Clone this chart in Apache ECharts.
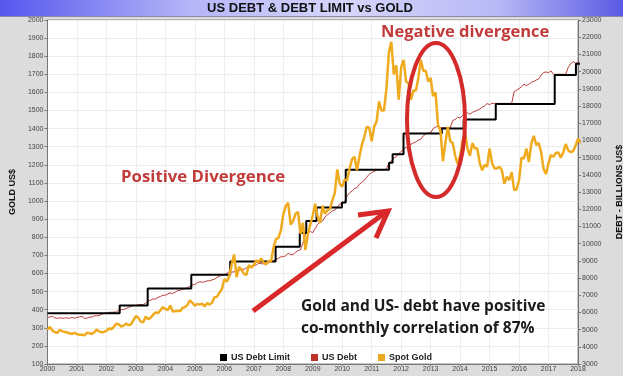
<!DOCTYPE html>
<html>
<head>
<meta charset="utf-8">
<script src="https://cdn.jsdelivr.net/npm/echarts@6/dist/echarts.min.js"></script>
<style>
html,body{margin:0;padding:0;background:#fff;}
#chart{width:639px;height:376px;background:linear-gradient(to right,#dcdcdc 0,#dcdcdc 623px,#ffffff 623px);}
</style>
</head>
<body>
<div id="chart"></div>
<script>
// ---- data ----
const startYear = 2000;
// Spot gold, US$ per ounce, monthly from Jan 2000 to Feb 2018
const goldMonthly = [
  289, 305, 285, 276, 272, 288, 282, 277, 274, 270, 266, 272,
  265, 262, 262, 258, 272, 270, 266, 274, 290, 280, 276, 277,
  283, 297, 292, 305, 322, 320, 306, 312, 323, 315, 319, 342,
  365, 355, 334, 330, 362, 348, 355, 372, 385, 381, 397, 414,
  404, 398, 423, 390, 392, 394, 392, 410, 414, 427, 452, 438,
  422, 432, 428, 433, 418, 437, 428, 439, 469, 471, 494, 513,
  568, 555, 584, 650, 705, 580, 636, 622, 598, 592, 646, 632,
  648, 672, 662, 683, 660, 650, 670, 665, 740, 790, 795, 836,
  925, 972, 990, 870, 890, 930, 940, 820, 880, 730, 815, 870,
  920, 985, 915, 880, 975, 930, 950, 955, 1005, 1045, 1175, 1095,
  1080, 1118, 1115, 1180, 1230, 1245, 1170, 1245, 1310, 1355, 1410, 1405,
  1330, 1410, 1440, 1550, 1500, 1500, 1620, 1820, 1880, 1700, 1750, 1560,
  1740, 1780, 1660, 1650, 1560, 1610, 1610, 1680, 1780, 1720, 1720, 1660,
  1680, 1580, 1600, 1420, 1390, 1220, 1320, 1410, 1330, 1320, 1250, 1205,
  1250, 1330, 1380, 1290, 1250, 1320, 1290, 1290, 1210, 1170, 1200, 1190,
  1290, 1210, 1180, 1180, 1190, 1170, 1095, 1135, 1115, 1160, 1060, 1065,
  1115, 1240, 1235, 1290, 1215, 1320, 1360, 1310, 1320, 1270, 1175, 1150,
  1210, 1255, 1245, 1265, 1268, 1240, 1268, 1315, 1280, 1270, 1275, 1305,
  1345, 1320
];
// US total public debt, billions US$, monthly from Jan 2000 to Feb 2018
const debtMonthly = [
  5712, 5735, 5773, 5685, 5648, 5686, 5657, 5678, 5674, 5658, 5709, 5662,
  5716, 5736, 5774, 5661, 5656, 5727, 5718, 5793, 5807, 5815, 5888, 5943,
  5937, 6003, 6006, 6015, 6019, 6126, 6160, 6162, 6228, 6283, 6343, 6405,
  6401, 6446, 6460, 6460, 6537, 6670, 6708, 6783, 6783, 6872, 6925, 6998,
  7002, 7080, 7131, 7098, 7180, 7274, 7293, 7345, 7379, 7429, 7525, 7596,
  7628, 7714, 7777, 7761, 7776, 7836, 7838, 7889, 7933, 8027, 8093, 8170,
  8196, 8269, 8371, 8343, 8359, 8420, 8438, 8500, 8507, 8592, 8630, 8680,
  8707, 8764, 8849, 8830, 8827, 8868, 8885, 8958, 9008, 9078, 9144, 9229,
  9238, 9299, 9437, 9358, 9367, 9492, 9585, 9645, 10025, 10525, 10661, 10700,
  10632, 10878, 11127, 11238, 11318, 11545, 11675, 11780, 11910, 11943, 12108, 12311,
  12278, 12439, 12773, 12948, 13050, 13203, 13239, 13452, 13562, 13668, 13860, 14025,
  14131, 14195, 14270, 14290, 14294, 14294, 14343, 14685, 14790, 14974, 15054, 15223,
  15356, 15487, 15582, 15692, 15771, 15856, 15914, 16016, 16066, 16261, 16370, 16433,
  16433, 16688, 16771, 16829, 16739, 16738, 16738, 16738, 16738, 17156, 17217, 17352,
  17293, 17463, 17601, 17602, 17517, 17632, 17688, 17750, 17824, 17938, 18005, 18141,
  18082, 18156, 18152, 18152, 18152, 18152, 18151, 18151, 18151, 18153, 18827, 18922,
  19012, 19125, 19264, 19187, 19265, 19381, 19427, 19510, 19573, 19805, 19948, 19977,
  19937, 20041, 19846, 19846, 19846, 19845, 19845, 19845, 20245, 20442, 20590, 20493,
  20494, 20855
];
// US debt limit changes (decimal year, billions US$)
const debtLimitDates  = [2000.0, 2002.45, 2003.4, 2004.88, 2006.2, 2007.74, 2008.56, 2008.78, 2009.13, 2009.99, 2010.12, 2011.59, 2011.71, 2012.08, 2013.38, 2014.12, 2015.21, 2017.21, 2017.93, 2018.1];
const debtLimitValues = [5950, 6400, 7384, 8184, 8965, 9815, 10615, 11315, 12104, 12394, 14294, 14694, 15194, 16394, 16699, 17212, 18113, 19809, 20456, 20456];

const seriesNames = ['US Debt Limit', 'US Debt', 'Spot Gold'];
const titleText = 'US DEBT & DEBT LIMIT vs GOLD';
const leftAxisName = 'GOLD US$';
const rightAxisName = 'DEBT - BILLIONS US$';
const noteNegative = 'Negative divergence';
const notePositive = 'Positive Divergence';
const noteCorrelation = ['Gold and US- debt have positive', 'co-monthly correlation of 87%'];

// ---- build ----
const goldData = goldMonthly.map((v, i) => [startYear + i / 12, v]);
const debtData = debtMonthly.map((v, i) => [startYear + i / 12, v]);
const limitData = debtLimitDates.map((d, i) => [d, debtLimitValues[i]]);

const chart = echarts.init(document.getElementById('chart'), null, {renderer: 'canvas'});
const axisLabelStyle = {fontSize: 7, color: '#444', fontFamily: 'Liberation Sans', formatter: v => String(v)};
const noteFont = '"Open Sans", "Noto Sans", sans-serif';

chart.setOption({
  animation: false,
  backgroundColor: 'transparent',
  grid: {left: 39, right: 61, top: 20, bottom: 12, show: true, backgroundColor: '#ffffff', borderColor: '#8a8a8a', borderWidth: 1},
  xAxis: {
    type: 'value', min: 2000, max: 2018, interval: 1,
    axisLine: {show: true, lineStyle: {color: '#777'}},
    axisTick: {show: true, length: 2, lineStyle: {color: '#777'}},
    axisLabel: Object.assign({margin: 2}, axisLabelStyle),
    splitLine: {show: true, lineStyle: {color: '#ededed', width: 1}}
  },
  yAxis: [
    {
      type: 'value', min: 100, max: 2000, interval: 100, position: 'left',
      name: leftAxisName, nameLocation: 'middle', nameRotate: 90, nameGap: 28,
      nameTextStyle: {fontSize: 9, fontWeight: 'bold', color: '#111', fontFamily: 'Liberation Sans'},
      axisLine: {show: true, lineStyle: {color: '#777'}},
      axisTick: {show: true, length: 3, lineStyle: {color: '#777'}},
      axisLabel: Object.assign({margin: 4}, axisLabelStyle),
      splitLine: {show: true, lineStyle: {color: '#ededed', width: 1}}
    },
    {
      type: 'value', min: 3000, max: 23000, interval: 1000, position: 'right',
      name: rightAxisName, nameLocation: 'middle', nameRotate: 90, nameGap: 37,
      nameTextStyle: {fontSize: 9, fontWeight: 'bold', color: '#111', fontFamily: 'Liberation Sans'},
      axisLine: {show: true, lineStyle: {color: '#777'}},
      axisTick: {show: true, length: 3, lineStyle: {color: '#777'}},
      axisLabel: Object.assign({margin: 4}, axisLabelStyle),
      splitLine: {show: false}
    }
  ],
  legend: {
    left: 215, top: 348, itemWidth: 7, itemHeight: 7, itemGap: 21, icon: 'rect',
    data: seriesNames,
    textStyle: {fontSize: 9, fontWeight: 'bold', color: '#222', fontFamily: 'Liberation Sans', padding: [0, 0, 0, -1]}
  },
  series: [
    {name: seriesNames[0], type: 'line', yAxisIndex: 1, step: 'end', data: limitData, showSymbol: false,
     lineStyle: {color: '#000', width: 2}, itemStyle: {color: '#000'}, z: 3},
    {name: seriesNames[1], type: 'line', yAxisIndex: 1, data: debtData, showSymbol: false,
     lineStyle: {color: '#b9403c', width: 1}, itemStyle: {color: '#c0302a'}, z: 2},
    {name: seriesNames[2], type: 'line', yAxisIndex: 0, data: goldData, showSymbol: false,
     lineStyle: {color: '#f0aa1e', width: 2.5}, itemStyle: {color: '#e8a820'}, z: 4}
  ],
  graphic: [
    {type: 'rect', z: 10, shape: {x: 0, y: 0, width: 623, height: 16},
     style: {fill: new echarts.graphic.LinearGradient(0, 0, 1, 0, [
       {offset: 0, color: '#5656ee'}, {offset: 0.3, color: '#b4b4f8'}, {offset: 0.55, color: '#d6d6fc'},
       {offset: 0.8, color: '#b8b8f6'}, {offset: 1, color: '#5a5ae4'}])}},
    {type: 'rect', z: 11, shape: {x: 0, y: 16, width: 623, height: 1}, style: {fill: '#8888aa'}},
    {type: 'text', z: 12, style: {text: titleText, x: 310, y: 8, textAlign: 'center', textVerticalAlign: 'middle',
      font: 'bold 13px "Liberation Sans", Arial, sans-serif', fill: '#111'}},
    {type: 'ellipse', z: 20, shape: {cx: 436, cy: 120, rx: 29, ry: 77},
     style: {fill: 'none', stroke: '#d42a2a', lineWidth: 4}},
    {type: 'polyline', z: 20, shape: {points: [[253, 311], [386, 212]]},
     style: {stroke: '#d8282a', lineWidth: 5, fill: 'none'}},
    {type: 'polyline', z: 20, shape: {points: [[358, 215], [388, 211], [376, 238]]},
     style: {stroke: '#d8282a', lineWidth: 5, fill: 'none', lineJoin: 'miter'}},
    {type: 'text', z: 21, style: {text: noteNegative, x: 381, y: 32, textVerticalAlign: 'middle',
      font: 'bold 16.5px ' + noteFont, fill: '#c23a3a'}},
    {type: 'text', z: 21, style: {text: notePositive, x: 121, y: 177, textVerticalAlign: 'middle',
      font: 'bold 16.8px ' + noteFont, fill: '#c23a3a'}},
    {type: 'text', z: 21, style: {text: noteCorrelation[0], x: 301, y: 307, textVerticalAlign: 'middle',
      font: 'bold 15.5px ' + noteFont, fill: '#1b1b1b'}},
    {type: 'text', z: 21, style: {text: noteCorrelation[1], x: 301, y: 329, textVerticalAlign: 'middle',
      font: 'bold 15.5px ' + noteFont, fill: '#1b1b1b'}}
  ]
});
</script>
</body>
</html>
